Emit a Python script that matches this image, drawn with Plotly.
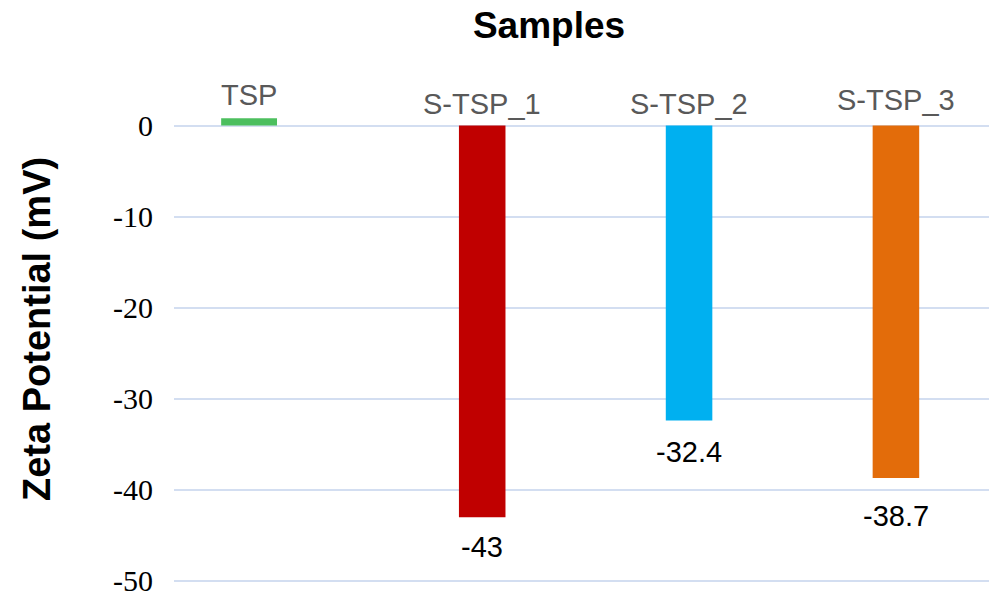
import plotly.graph_objects as go

categories = ["TSP", "S-TSP_1", "S-TSP_2", "S-TSP_3"]
zeta_mv = [0.8, -43, -32.4, -38.7]
bar_colors = ["#4CBF5E", "#C00000", "#00B0F0", "#E36C0A"]
y_ticks = [0, -10, -20, -30, -40, -50]

# styling (bar widths/offsets in category units, label shifts in px)
bar_widths = [0.27, 0.225, 0.225, 0.225]
bar_offsets = [-0.262, -0.1125, -0.1125, -0.1125]
cat_label_shift = [31, 22, 22, 26]
val_label_shift = [0, -30, -31, -38]

fig = go.Figure()
fig.add_trace(go.Bar(
    x=categories, y=zeta_mv,
    width=bar_widths, offset=bar_offsets,
    marker=dict(color=bar_colors, line=dict(width=0)),
    showlegend=False, hoverinfo="x+y",
))

annotations = []
for i, (c, v) in enumerate(zip(categories, zeta_mv)):
    xc = i + bar_offsets[i] + bar_widths[i] / 2
    annotations.append(dict(
        x=xc, y=0, xref="x", yref="y", text=c, showarrow=False,
        xanchor="center", yanchor="middle", yshift=cat_label_shift[i],
        font=dict(family="Liberation Sans, Arial", size=29, color="#595959"),
    ))
    if v < 0:
        annotations.append(dict(
            x=xc, y=v, xref="x", yref="y", text=f"{v:g}", showarrow=False,
            xanchor="center", yanchor="middle", yshift=val_label_shift[i],
            font=dict(family="Liberation Sans, Arial", size=29, color="#000000"),
        ))

plot_l, plot_r, plot_t, plot_b = 174, 0, 80, 5
plot_w = 989 - plot_l - plot_r
plot_h = 597 - plot_t - plot_b
annotations.append(dict(
    x=(37 - plot_l) / plot_w, xref="paper",
    y=(597 - plot_b - 330) / plot_h, yref="paper",
    text="<b>Zeta Potential (mV)</b>",
    textangle=-90, showarrow=False, xanchor="center", yanchor="middle",
    font=dict(family="Liberation Sans, Arial", size=38, color="#000000"),
))

fig.update_layout(
    width=989, height=597,
    margin=dict(l=plot_l, r=plot_r, t=plot_t, b=plot_b),
    paper_bgcolor="white", plot_bgcolor="white",
    title=dict(
        text="<b>Samples</b>", xref="container", yref="container",
        x=549 / 989, y=1 - 25 / 597, xanchor="center", yanchor="middle",
        font=dict(family="Liberation Sans, Arial", size=37, color="#000000"),
    ),
    xaxis=dict(
        type="category", range=[-0.49, 3.45],
        showticklabels=False, showgrid=False, zeroline=False, showline=False,
        ticks="",
    ),
    yaxis=dict(
        range=[-51.0, 5.0], tickvals=y_ticks, ticktext=[str(t) for t in y_ticks],
        showgrid=True, gridcolor="#D3DEF1", gridwidth=2,
        zeroline=True, zerolinecolor="#D3DEF1", zerolinewidth=2,
        showline=False, ticks="", ticklabelstandoff=20,
        ticklabeloverflow="allow",
        tickfont=dict(family="Liberation Serif, Times New Roman", size=30, color="#000000"),
    ),
    annotations=annotations,
)

fig.write_html("out.html")
